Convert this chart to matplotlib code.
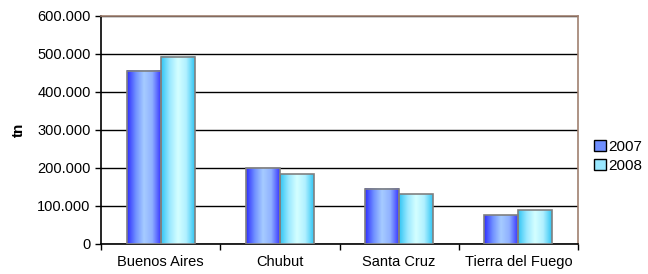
import numpy as np
import matplotlib
matplotlib.use("Agg")
import matplotlib.pyplot as plt
from matplotlib.colors import LinearSegmentedColormap
from matplotlib.patches import Patch
from matplotlib.ticker import FuncFormatter, FixedLocator

plt.rcParams['font.family'] = ['Liberation Sans', 'DejaVu Sans']

categories = ["Buenos Aires", "Chubut", "Santa Cruz", "Tierra del Fuego"]
series_names = ["2007", "2008"]
values_2007 = [456000, 199000, 145000, 76000]
values_2008 = [493000, 184000, 131000, 89000]
yticks = [0, 100000, 200000, 300000, 400000, 500000, 600000]

cmap07 = LinearSegmentedColormap.from_list("c07", ["#2f2fff", "#6f8fff", "#a6ccff", "#8fb0ff", "#3a3aff"])
cmap08 = LinearSegmentedColormap.from_list("c08", ["#33c6f4", "#99e8ff", "#d4ffff", "#b0f0ff", "#33c6f4"])

fig = plt.figure(figsize=(6.48, 2.74), dpi=100)
ax = fig.add_axes([0.156, 0.1095, 0.736, 0.8325])

x = np.arange(len(categories))
bw = 0.285
grad = np.linspace(0, 1, 64).reshape(1, -1)

for vals, cm, off in [(values_2007, cmap07, -bw / 2), (values_2008, cmap08, bw / 2)]:
    for xi, v in zip(x, vals):
        left = xi + off - bw / 2
        ax.imshow(grad, cmap=cm, aspect='auto', extent=(left, left + bw, 0, v),
                  origin='lower', zorder=3, interpolation='bilinear')
        ax.bar(xi + off, v, width=bw, facecolor='none', edgecolor='#808080', linewidth=1.2, zorder=4)

ax.set_xlim(-0.5, len(categories) - 0.5)
ax.set_ylim(0, 600000)
ax.yaxis.set_major_locator(FixedLocator(yticks))
ax.yaxis.set_major_formatter(FuncFormatter(lambda v, p: f"{int(v):,}".replace(",", ".")))
ax.set_xticks(x)
ax.set_xticklabels(categories, fontsize=10.5)
ax.set_xticks(np.arange(-0.5, len(categories) + 0.5, 1), minor=True)
ax.tick_params(axis='x', which='major', length=0, pad=8)
ax.tick_params(axis='x', which='minor', length=4, width=1, direction='out', color='black')
ax.tick_params(axis='y', length=4, width=1, direction='out', labelsize=10.5, pad=3.5)

ax.grid(axis='y', color='black', linewidth=1, zorder=1)
ax.set_axisbelow(True)
for s in ['left', 'bottom']:
    ax.spines[s].set_color('black')
    ax.spines[s].set_linewidth(1.2)
for s in ['right', 'top']:
    ax.spines[s].set_color('#a08070')
    ax.spines[s].set_linewidth(1.2)

ax.set_ylabel("tn", fontsize=11, fontweight='bold', labelpad=8)

handles = [Patch(facecolor="#6f8fff", edgecolor='black', label=series_names[0]),
           Patch(facecolor="#99e8ff", edgecolor='black', label=series_names[1])]
fig.legend(handles=handles, loc='center left', bbox_to_anchor=(0.917, 0.43), frameon=False,
           fontsize=11, handlelength=0.75, handleheight=0.75, handletextpad=0.15, labelspacing=0.35,
           borderaxespad=0, borderpad=0)

fig.savefig("out.png", dpi=100)
